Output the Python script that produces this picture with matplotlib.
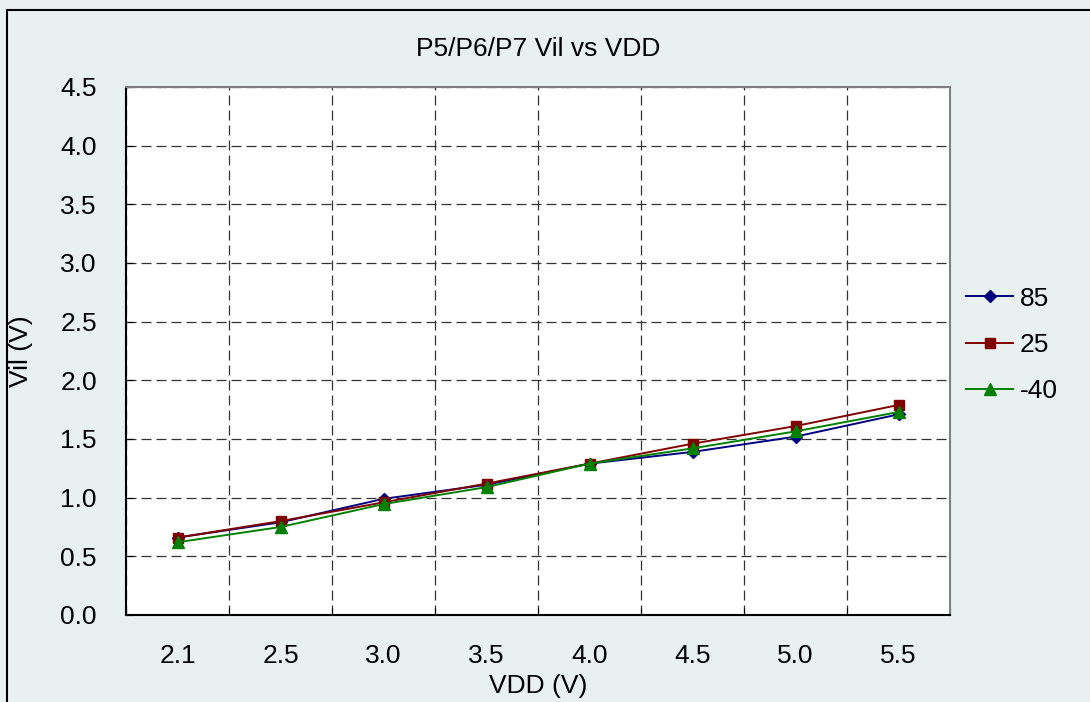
import matplotlib
matplotlib.use("Agg")
import matplotlib.pyplot as plt
from matplotlib.patches import Rectangle

plt.rcParams['font.family'] = ['Liberation Sans', 'DejaVu Sans']

vdd = ["2.1", "2.5", "3.0", "3.5", "4.0", "4.5", "5.0", "5.5"]
vil_85 = [0.66, 0.79, 0.99, 1.11, 1.29, 1.39, 1.52, 1.71]
vil_25 = [0.66, 0.80, 0.96, 1.12, 1.29, 1.46, 1.61, 1.79]
vil_m40 = [0.62, 0.75, 0.945, 1.09, 1.29, 1.42, 1.565, 1.73]
y_ticks = [0.0, 0.5, 1.0, 1.5, 2.0, 2.5, 3.0, 3.5, 4.0, 4.5]

BG = '#E8F1F0'

fig = plt.figure(figsize=(10.9, 7.02), dpi=100, facecolor=BG)
ax = fig.add_axes([126/1090, 1-615/702, (950-126)/1090, (615-87)/702])
ax.set_facecolor('white')

xs = list(range(len(vdd)))
ax.plot(xs, vil_85, color='#000080', marker='D', markersize=6.5, lw=1.4, label='85')
ax.plot(xs, vil_25, color='#800000', marker='s', markersize=7.5, lw=1.4, label='25')
ax.plot(xs, vil_m40, color='#008000', marker='^', markersize=9, lw=1.4, label='-40')

ax.set_xlim(-0.5, len(vdd)-0.5)
ax.set_ylim(0, 4.5)
# category boundaries carry ticks + grid, labels sit at centers
ax.set_xticks([i-0.5 for i in range(len(vdd)+1)])
ax.set_xticklabels([])
ax.set_xticks(xs, minor=True)
ax.set_xticklabels(vdd, minor=True)
ax.tick_params(axis='x', which='minor', length=0, pad=21, labelsize=19)
ax.tick_params(axis='x', which='major', direction='in', length=5, color='black')
ax.set_yticks(y_ticks)
ax.set_yticklabels(["%.1f" % v for v in y_ticks])
ax.tick_params(axis='y', direction='in', length=5, pad=21, labelsize=19)

ax.grid(True, which='major', color='#333333', linestyle=(0, (8, 4)), linewidth=0.9)

for s in ['top', 'right']:
    ax.spines[s].set_color('#808080')
    ax.spines[s].set_linewidth(1.5)
for s in ['left', 'bottom']:
    ax.spines[s].set_color('black')
    ax.spines[s].set_linewidth(1.5)

ax.set_xlabel('VDD (V)', fontsize=19, labelpad=4)
ax.set_ylabel('Vil (V)', fontsize=19)
ax.yaxis.set_label_coords(-0.113, 0.5)
ax.set_title('P5/P6/P7 Vil vs VDD', fontsize=19, pad=22)

leg = fig.legend(loc='center left', bbox_to_anchor=(942/1090, 1-345/702), frameon=False,
                 fontsize=19, handlelength=1.8, handletextpad=0.25, labelspacing=0.85)

fig.patches.append(Rectangle((7/1090, -0.1), 1.2, 1.1-10/702, transform=fig.transFigure,
                             fill=False, edgecolor='black', linewidth=1.5))

fig.savefig('out.png', dpi=100, facecolor=BG)
